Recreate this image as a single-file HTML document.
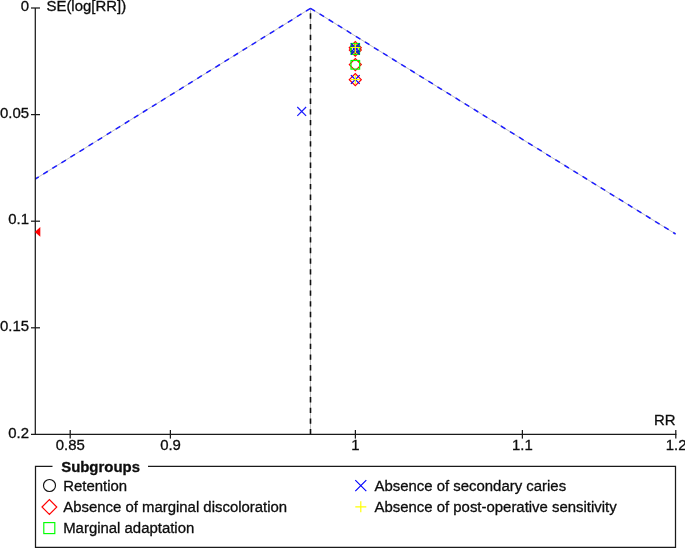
<!DOCTYPE html>
<html><head><meta charset="utf-8">
<style>
html,body{margin:0;padding:0;background:#fff;}
svg{display:block;}
text{font-family:"Liberation Sans",Arial,sans-serif;font-size:14.93px;fill:#0d0d0d;stroke:#0d0d0d;stroke-width:0.3px;}
</style></head><body>
<svg width="685" height="548" viewBox="0 0 685 548">
<rect width="685" height="548" fill="#fff"/>
<!-- funnel -->
<g fill="none">
<path d="M310.5,8.3 L35.3,179 M310.5,8.3 L675.6,234 M310.5,434.4 L310.5,8" stroke="#888" stroke-width="0.55"/>
<path d="M310.5,8.3 L35.3,179 M310.5,8.3 L675.6,234" stroke="#1c1cff" stroke-width="1.5" stroke-dasharray="5.33,5.33"/>
<path d="M310.5,434.4 L310.5,8" stroke="#111" stroke-width="1.6" stroke-dasharray="5.33,5.33"/>
</g>
<!-- axes -->
<g stroke="#1a1a1a" stroke-width="1.25" fill="none">
<line x1="35.3" y1="8" x2="35.3" y2="434.4"/>
<line x1="31" y1="434.4" x2="676.4" y2="434.4"/>
<line x1="31" y1="8" x2="40" y2="8"/>
<line x1="31" y1="114.6" x2="40" y2="114.6"/>
<line x1="31" y1="221.2" x2="40" y2="221.2"/>
<line x1="31" y1="327.8" x2="40" y2="327.8"/>
<line x1="70.2" y1="430" x2="70.2" y2="438.6"/>
<line x1="170.4" y1="430" x2="170.4" y2="438.6"/>
<line x1="355.4" y1="430" x2="355.4" y2="438.6"/>
<line x1="522.4" y1="430" x2="522.4" y2="438.6"/>
<line x1="675.8" y1="430" x2="675.8" y2="438.6"/>
</g>
<!-- data markers -->
<polygon points="34.8,231.9 40.3,227 40.3,236.7" fill="#f00"/>
<g fill="none" stroke-width="1.2">
<path d="M297.3,107.0 l8.8,8.8 m0,-8.8 l-8.8,8.8" stroke="#1a1aff"/>
<polygon points="349.3,47.7 355.3,41.7 361.3,47.7 355.3,53.7" stroke="#f00"/>
<polygon points="349.3,50.1 355.3,44.1 361.3,50.1 355.3,56.1" stroke="#f00"/>
<rect x="351.1" y="43.5" width="8.4" height="8.4" stroke="#0f0"/>
<rect x="351.1" y="45.9" width="8.4" height="8.4" stroke="#0f0"/>
<path d="M350.9,43.3 l8.8,8.8 m0,-8.8 l-8.8,8.8" stroke="#00f"/>
<path d="M350.9,45.7 l8.8,8.8 m0,-8.8 l-8.8,8.8" stroke="#00f"/>
<path d="M350.8,47.5 h9.0 M355.3,43.4 v9.7" stroke="#ff0"/>
<polygon points="349.3,64.6 355.3,58.6 361.3,64.6 355.3,70.6" stroke="#f00"/>
<rect x="351.0" y="60.5" width="8.6" height="8.6" stroke="#0f0"/>
<polygon points="349.3,79.7 355.3,73.7 361.3,79.7 355.3,85.7" stroke="#f00"/>
<path d="M350.9,75.1 l8.8,8.8 m0,-8.8 l-8.8,8.8" stroke="#00f"/>
<path d="M350.9,79.5 h8.8 M355.3,75.1 v8.8" stroke="#ff0"/>
</g>
<!-- labels -->
<text x="29" y="11" text-anchor="end">0</text>
<text x="29" y="117.8" text-anchor="end">0.05</text>
<text x="29" y="224.4" text-anchor="end">0.1</text>
<text x="29" y="331" text-anchor="end">0.15</text>
<text x="29" y="437.7" text-anchor="end">0.2</text>
<text x="46.5" y="11">SE(log[RR])</text>
<text x="70.3" y="450.35" text-anchor="middle">0.85</text>
<text x="170.5" y="450.35" text-anchor="middle">0.9</text>
<text x="355.4" y="450.35" text-anchor="middle">1</text>
<text x="522.4" y="450.35" text-anchor="middle">1.1</text>
<text x="676.1" y="450.35" text-anchor="middle">1.2</text>
<text x="675.5" y="424.8" text-anchor="end">RR</text>
<!-- legend -->
<g stroke="#1a1a1a" stroke-width="1.25" fill="none">
<polyline points="52.5,466.4 35.5,466.4 35.5,547.3 675.5,547.3 675.5,466.4 148,466.4"/>
</g>
<text x="61.2" y="471.5" font-weight="bold">Subgroups</text>
<circle cx="49.5" cy="485.5" r="6" fill="none" stroke="#111" stroke-width="1.15"/>
<text x="63.2" y="491.2">Retention</text>
<polygon points="42,507 49.4,499.5 56.8,507 49.4,514.5" fill="none" stroke="#f00" stroke-width="1.15"/>
<text x="63.2" y="512.3">Absence of marginal discoloration</text>
<rect x="43.8" y="522.6" width="11" height="11" fill="none" stroke="#0f0" stroke-width="1.15"/>
<text x="63.2" y="533.4">Marginal adaptation</text>
<path d="M355.3,480.1 l11,11 m0,-11 l-11,11" stroke="#00f" stroke-width="1.15" fill="none"/>
<text x="374.5" y="491.2">Absence of secondary caries</text>
<path d="M355.3,506.8 h11 m-5.5,-5.5 v11" stroke="#ff0" stroke-width="1.15" fill="none"/>
<text x="374.5" y="512.3">Absence of post-operative sensitivity</text>
</svg>
</body></html>
